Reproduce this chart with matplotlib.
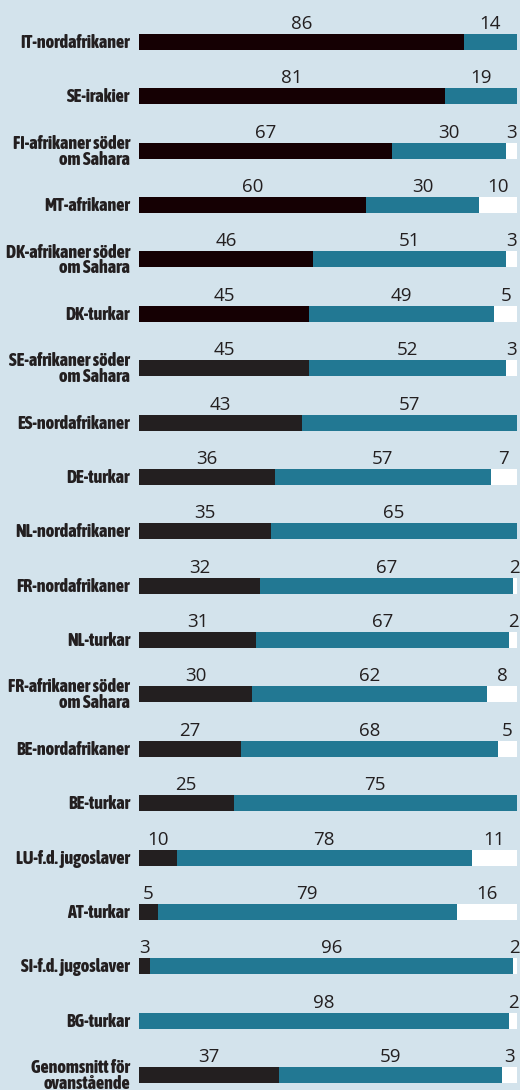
import matplotlib.pyplot as plt

names = ["IT-nordafrikaner", "SE-irakier", "FI-afrikaner söder\nom Sahara", "MT-afrikaner",
         "DK-afrikaner söder\nom Sahara", "DK-turkar", "SE-afrikaner söder\nom Sahara",
         "ES-nordafrikaner", "DE-turkar", "NL-nordafrikaner", "FR-nordafrikaner", "NL-turkar",
         "FR-afrikaner söder\nom Sahara", "BE-nordafrikaner", "BE-turkar", "LU-f.d. jugoslaver",
         "AT-turkar", "SI-f.d. jugoslaver", "BG-turkar", "Genomsnitt för\novanstående"]
dark = [86, 81, 67, 60, 46, 45, 45, 43, 36, 35, 32, 31, 30, 27, 25, 10, 5, 3, 0, 37]
teal = [14, 19, 30, 30, 51, 49, 52, 57, 57, 65, 67, 67, 62, 68, 75, 78, 79, 96, 98, 59]
white = [0, 0, 3, 10, 3, 5, 3, 0, 7, 0, 2, 2, 8, 5, 0, 11, 16, 2, 2, 3]

bg = "#d3e3ec"
c_teal = "#227893"

W, H = 520, 1090
fig = plt.figure(figsize=(W / 100, H / 100), dpi=100, facecolor=bg)
ax = fig.add_axes([139 / W, 0, 378 / W, 1])
ax.set_facecolor(bg)
ax.set_xlim(0, 100)
ax.set_ylim(H, 0)
ax.axis("off")

num_font = ["Open Sans", "DejaVu Sans"]
lab_font = ["Asap Condensed", "DejaVu Sans"]

bh = 16
for i, name in enumerate(names):
    y = 42 + i * 54.37
    dcol = "#150003" if i < 6 else "#231f20"
    d, t, w = dark[i], teal[i], white[i]
    ax.barh(y, d, height=bh, left=0, color=dcol, edgecolor="none")
    ax.barh(y, t, height=bh, left=d, color=c_teal, edgecolor="none")
    if w > 0:
        ax.barh(y, 100 - d - t, height=bh, left=d + t, color="white", edgecolor="none")
    ty = y - bh / 2 - 5
    if d > 0:
        ax.text(d / 2, ty, str(d), ha="center", va="baseline", fontsize=13.5,
                family=num_font, color="#231f20")
    ax.text(d + t / 2, ty, str(t), ha="center", va="baseline", fontsize=13.5,
            family=num_font, color="#231f20")
    if w > 0:
        xw = min(d + t + (100 - d - t) / 2, 99.2)
        ax.text(xw, ty, str(w), ha="center", va="baseline", fontsize=13.5,
                family=num_font, color="#231f20", clip_on=False)
    ax.text(-2.4, y + 1, name, ha="right", va="center", fontsize=13, fontweight=800,
            family=lab_font, color="#231f20", linespacing=0.85)

fig.savefig("out.png", dpi=100, facecolor=bg)
